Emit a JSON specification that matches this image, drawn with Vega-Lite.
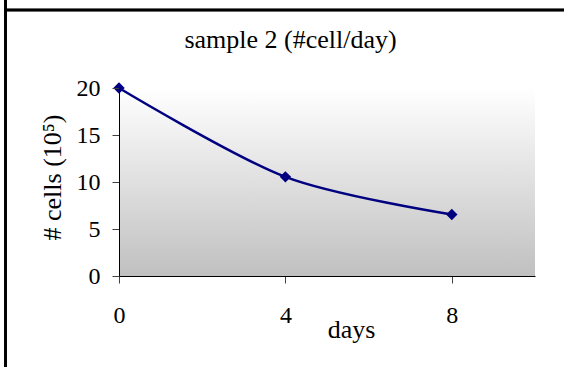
{
  "$schema": "https://vega.github.io/schema/vega-lite/v6.json",
  "width": 416,
  "height": 188,
  "autosize": "none",
  "padding": {"left": 119, "top": 88, "right": 29, "bottom": 91},
  "background": "white",
  "config": {"view": {"stroke": null}, "font": "Liberation Serif"},
  "data": {"values": [
    {"day": 0, "cells": 20},
    {"day": 4, "cells": 10.55},
    {"day": 8, "cells": 6.55}
  ]},
  "resolve": {"axis": {"x": "independent", "y": "independent"}},
  "layer": [
    {
      "mark": {"type": "rect", "color": {"gradient": "linear", "x1": 0, "y1": 0, "x2": 0, "y2": 1, "stops": [{"offset": 0, "color": "#ffffff"}, {"offset": 1, "color": "#c0c0c0"}]}},
      "encoding": {
        "x": {"datum": 0, "type": "quantitative", "scale": {"domain": [0, 10], "nice": false},
          "axis": {"orient": "top", "domain": false, "ticks": false, "labels": false, "grid": false,
            "title": "sample 2 (#cell/day)", "titleX": 171, "titleY": -41, "titleBaseline": "alphabetic", "titleAlign": "center", "titleAngle": 0,
            "titleFontSize": 26, "titleFontWeight": "normal", "titleColor": "black", "titleFont": "Liberation Serif"}},
        "x2": {"datum": 10},
        "y": {"datum": 0, "type": "quantitative", "scale": {"domain": [0, 20], "nice": false}, "axis": null},
        "y2": {"datum": 20}
      }
    },
    {
      "mark": {"type": "rule", "color": "black", "strokeWidth": 2.5},
      "encoding": {
        "x": {"datum": -2.728, "type": "quantitative", "axis": null},
        "y": {"datum": 30, "type": "quantitative", "axis": null},
        "y2": {"datum": -10}
      }
    },
    {
      "mark": {"type": "rule", "color": "black", "strokeWidth": 2.5},
      "encoding": {
        "x": {"datum": -2.728, "type": "quantitative", "axis": null},
        "x2": {"datum": 11},
        "y": {"datum": 28.3, "type": "quantitative", "axis": null}
      }
    },
    {
      "mark": {"type": "line", "interpolate": "cardinal", "tension": 0.1, "color": "#000080", "strokeWidth": 2.5,
        "point": {"shape": "diamond", "size": 130, "filled": true, "color": "#000080", "opacity": 1}},
      "encoding": {
        "x": {"field": "day", "type": "quantitative", "scale": {"domain": [0, 10], "nice": false},
          "axis": {"orient": "bottom", "values": [0, 4, 8], "zindex": 1, "grid": false,
            "domainColor": "black", "domainWidth": 1, "tickColor": "#404040", "tickSize": 7, "tickWidth": 1,
            "labelFontSize": 24, "labelFont": "Liberation Serif", "labelColor": "black", "labelBaseline": "alphabetic", "labelPadding": 39,
            "labelFlush": false, "labelOverlap": false,
            "title": "days", "titleX": 232, "titleY": 61, "titleBaseline": "alphabetic", "titleAlign": "center",
            "titleFontSize": 26, "titleFontWeight": "normal", "titleColor": "black", "titleFont": "Liberation Serif"}},
        "y": {"field": "cells", "type": "quantitative", "scale": {"domain": [0, 20], "nice": false},
          "axis": {"orient": "left", "values": [0, 5, 10, 15, 20], "zindex": 1, "grid": false,
            "domainColor": "black", "domainWidth": 1, "tickColor": "#404040", "tickSize": 7, "tickWidth": 1,
            "labelFontSize": 24, "labelFont": "Liberation Serif", "labelColor": "black", "labelBaseline": "middle", "labelPadding": 12,
            "labelFlush": false, "labelOverlap": false,
            "title": "# cells (10⁵)", "titleX": -67, "titleY": 89, "titleAngle": -90, "titleBaseline": "middle", "titleAlign": "center",
            "titleFontSize": 26, "titleFontWeight": "normal", "titleColor": "black", "titleFont": "Liberation Serif"}}
      }
    }
  ]
}
